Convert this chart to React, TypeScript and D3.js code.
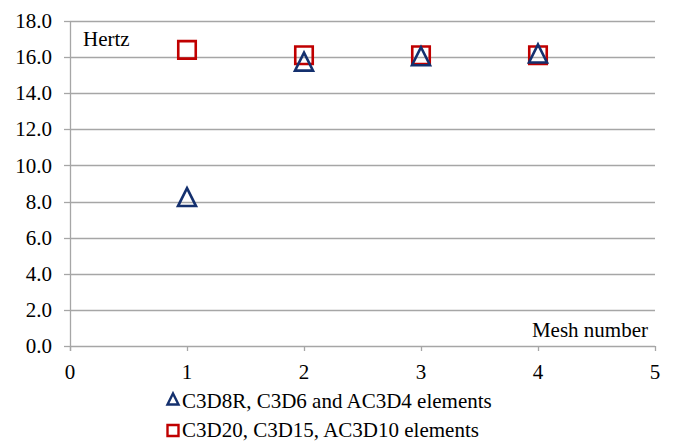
import React from "react";
import * as d3 from "d3";

// mesh refinement study, first natural frequency
const meshNumbers = [1, 2, 3, 4];
const linearElemHz = [8.2, 15.7, 16.0, 16.15];
const quadElemHz = [16.4, 16.1, 16.1, 16.1];
const yTickValues = [0, 2, 4, 6, 8, 10, 12, 14, 16, 18];
const xTickValues = [0, 1, 2, 3, 4, 5];
const legendLabels = [
  "C3D8R, C3D6 and AC3D4 elements",
  "C3D20, C3D15, AC3D10 elements",
];

const NAVY = "#14306e";
const RED = "#c00000";
const GRID = "#a6a6a6";

const width = 673;
const height = 441;
const left = 70;
const right = 655;
const top = 21;
const bottom = 346;

const xScale = d3.scaleLinear().domain([0, 5]).range([left, right]);
const yScale = d3.scaleLinear().domain([0, 18]).range([bottom, top]);
const yFmt = d3.format(".1f");

const textStyle = { fontFamily: "Times New Roman", fontSize: 21 };

const triPath = (cx: number, cy: number, s: number) =>
  `M${cx},${cy - s * 0.55}L${cx + s / 2},${cy + s * 0.45}L${cx - s / 2},${cy + s * 0.45}Z`;
const sqPath = (cx: number, cy: number, s: number) =>
  `M${cx - s / 2},${cy - s / 2}h${s}v${s}h${-s}Z`;

const App = () => {
  const snap = (v: number) => Math.round(v) + 0.5;

  return (
    <svg
      width={width}
      height={height}
      style={{ position: "absolute", left: 0, top: 0, background: "#fff" }}
    >
      {/* gridlines + y ticks */}
      {yTickValues.map((v) => (
        <g key={v}>
          {v > 0 && (
            <line x1={left} x2={right} y1={snap(yScale(v))} y2={snap(yScale(v))} stroke={GRID} strokeWidth={1.3} />
          )}
          <line x1={left - 6} x2={left} y1={snap(yScale(v))} y2={snap(yScale(v))} stroke={GRID} strokeWidth={1.3} />
          <text x={52} y={yScale(v)} dy="0.34em" textAnchor="end" style={textStyle}>
            {yFmt(v)}
          </text>
        </g>
      ))}

      {/* axes */}
      <line x1={left + 0.5} x2={left + 0.5} y1={top} y2={bottom + 5} stroke={GRID} strokeWidth={1.3} />
      <line x1={left} x2={right} y1={bottom + 0.5} y2={bottom + 0.5} stroke={GRID} strokeWidth={1.3} />
      {xTickValues.map((v) => (
        <g key={v}>
          <line x1={snap(xScale(v))} x2={snap(xScale(v))} y1={bottom} y2={bottom + 5} stroke={GRID} strokeWidth={1.3} />
          <text x={xScale(v)} y={379} textAnchor="middle" style={textStyle}>
            {v}
          </text>
        </g>
      ))}

      {/* axis titles inside the plot */}
      <text x={83} y={46} style={textStyle}>
        Hertz
      </text>
      <text x={648} y={337} textAnchor="end" style={textStyle}>
        Mesh number
      </text>

      {/* quadratic element series (squares) */}
      {meshNumbers.map((m, i) => (
        <path
          key={"q" + m}
          d={sqPath(xScale(m), yScale(quadElemHz[i]), 17.5)}
          fill="none"
          stroke={RED}
          strokeWidth={2.6}
        />
      ))}

      {/* linear element series (triangles) */}
      {meshNumbers.map((m, i) => (
        <path
          key={"l" + m}
          d={triPath(xScale(m), yScale(linearElemHz[i]), 18)}
          fill="none"
          stroke={NAVY}
          strokeWidth={2.6}
        />
      ))}

      {/* legend, second row kept just inside the bottom edge */}
      <path d={triPath(173, 399.5, 11)} fill="none" stroke={NAVY} strokeWidth={2.4} />
      <path d={sqPath(173, 430.5, 11)} fill="none" stroke={RED} strokeWidth={2.4} />
      {legendLabels.map((label, i) => (
        <text key={label} x={182} y={408 + i * 29} style={textStyle}>
          {label}
        </text>
      ))}
    </svg>
  );
};

export default App;
